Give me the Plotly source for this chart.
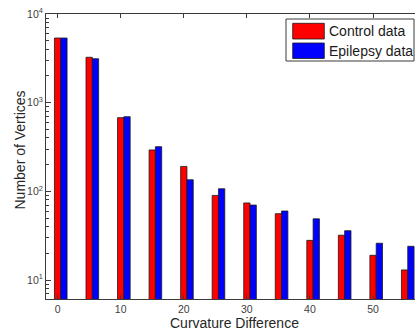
import plotly.graph_objects as go

# Histogram of curvature differences (bin starts) for the two groups
curv_diff = [0, 5, 10, 15, 20, 25, 30, 35, 40, 45, 50, 55]
control_counts = [5360, 3250, 678, 293, 191, 90, 74, 56, 28, 32, 19, 13]
epilepsy_counts = [5360, 3130, 695, 319, 135, 107, 70, 60, 49, 36, 26, 24]

x_ticks = [0, 10, 20, 30, 40, 50]
y_major = [10, 100, 1000, 10000]
y_major_text = ["10<sup>1</sup>", "10<sup>2</sup>", "10<sup>3</sup>", "10<sup>4</sup>"]
y_minor = [m * d for d in (1, 10, 100, 1000) for m in range(2, 10)]

W, H = 415, 333
ML, MR, MT, MB = 46, 0, 14, 34
PW, PH = W - ML - MR, H - MT - MB

AXIS_COL = "#3a3a3a"
FONT = "Liberation Sans, Arial, Helvetica, sans-serif"


def px(x):
    return (x - ML) / PW


def py(y):
    return (H - MB - y) / PH


fig = go.Figure()
fig.add_trace(go.Bar(
    x=curv_diff, y=control_counts, width=1, offset=-0.5,
    marker=dict(color="#ff0000", line=dict(color="#1a1a1a", width=0.8)),
    name="Control data", showlegend=False,
))
fig.add_trace(go.Bar(
    x=curv_diff, y=epilepsy_counts, width=1, offset=0.5,
    marker=dict(color="#0000ff", line=dict(color="#1a1a1a", width=0.8)),
    name="Epilepsy data", showlegend=False,
))

x_range = [-1.84, 56.65]
y_range = [0.786, 4.0]

fig.update_layout(
    width=W, height=H,
    margin=dict(l=ML, r=MR, t=MT, b=MB, pad=0),
    paper_bgcolor="white", plot_bgcolor="white",
    barmode="overlay",
    font=dict(family=FONT, color="#404040", size=10),
    xaxis=dict(
        range=x_range, tickvals=x_ticks, ticks="inside", ticklen=4,
        tickcolor=AXIS_COL, showline=True, linecolor=AXIS_COL, linewidth=1,
        showgrid=False, zeroline=False, tickfont=dict(size=10.5, color="#404040"),
    ),
    xaxis2=dict(
        range=x_range, overlaying="x", side="top", tickvals=x_ticks,
        ticks="inside", ticklen=4, tickcolor=AXIS_COL, showline=True,
        linecolor=AXIS_COL, linewidth=1, showticklabels=False,
        showgrid=False, zeroline=False,
    ),
    yaxis=dict(
        type="log", range=y_range, tickvals=y_major, ticktext=y_major_text,
        ticks="inside", ticklen=5, tickcolor=AXIS_COL, showline=True,
        linecolor=AXIS_COL, linewidth=1, showgrid=False, zeroline=False,
        tickfont=dict(size=10.5, color="#404040"),
    ),
    yaxis2=dict(
        type="log", range=y_range, overlaying="y", side="left",
        tickvals=y_minor, ticks="inside", ticklen=3, tickcolor=AXIS_COL,
        showticklabels=False, showgrid=False, zeroline=False, showline=False,
    ),
)

# invisible trace to activate the mirrored axes
fig.add_trace(go.Scatter(x=[None], y=[None], xaxis="x2", yaxis="y2",
                         showlegend=False, hoverinfo="skip"))

# axis titles
fig.add_annotation(text="Curvature Difference", xref="paper", yref="paper",
                   x=px(234.5), y=py(332.5), xanchor="center", yanchor="bottom",
                   showarrow=False, font=dict(size=14, color="#262626"))
fig.add_annotation(text="Number of Vertices", xref="paper", yref="paper",
                   x=px(19.5), y=py(150), xanchor="center", yanchor="middle",
                   textangle=-90, showarrow=False,
                   font=dict(size=14, color="#262626"))

# legend box with wide colour swatches
fig.add_shape(type="rect", xref="paper", yref="paper",
              x0=px(286), x1=px(414), y0=py(61), y1=py(19),
              line=dict(color=AXIS_COL, width=1), fillcolor="white", layer="above")
for (y0, y1, col, label) in [(23.3, 39, "#ff0000", "Control data"),
                             (43.0, 58.5, "#0000ff", "Epilepsy data")]:
    fig.add_shape(type="rect", xref="paper", yref="paper",
                  x0=px(292.7), x1=px(324.3), y0=py(y1), y1=py(y0),
                  line=dict(color="#1a1a1a", width=0.8), fillcolor=col, layer="above")
    fig.add_annotation(text=label, xref="paper", yref="paper",
                       x=px(326.5), y=py((y0 + y1) / 2), xanchor="left",
                       yanchor="middle", showarrow=False,
                       font=dict(size=14, color="#1a1a1a"))

fig.write_html("out.html")
